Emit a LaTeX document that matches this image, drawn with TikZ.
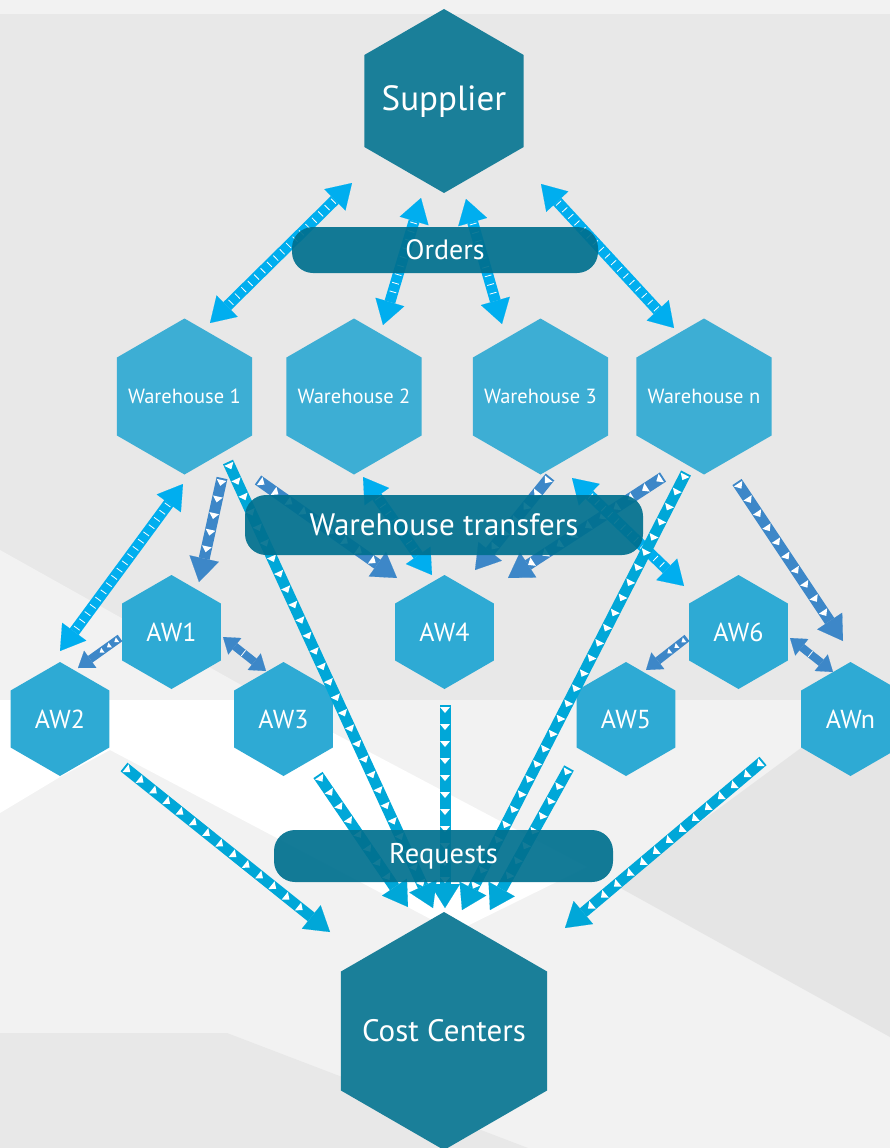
\documentclass[tikz,border=0pt]{standalone}
\usepackage{fontspec}
\setmainfont{PT Sans}
\usetikzlibrary{arrows.meta,decorations.markings,calc}
\definecolor{bgmain}{HTML}{E8E8E8}
\definecolor{bglight}{HTML}{F2F2F2}
\definecolor{bgdark}{HTML}{E5E5E5}
\definecolor{supc}{HTML}{1A7F99}
\definecolor{whc}{HTML}{3DAED4}
\definecolor{awc}{HTML}{2EAAD4}
\definecolor{pillc}{HTML}{00708F}
\definecolor{cyanA}{HTML}{00AEEF}
\definecolor{steelc}{HTML}{3D87C8}
\definecolor{reqc}{HTML}{00A7D8}
\newcommand\drawhex[3]{\fill[#1] #2 +(90:#3) -- +(150:#3) -- +(210:#3) -- +(270:#3) -- +(330:#3) -- +(30:#3) -- cycle;}
\newcommand\ribone[4]{\draw[#1] (#3) -- (#4);
  \path[#2] ($(#3)!5pt!(#4)$) -- ($(#4)!26pt!(#3)$);}
\newcommand\ribtwo[4]{\draw[#1] (#3) -- (#4);
  \path[#2] ($(#3)!26pt!(#4)$) -- ($(#4)!26pt!(#3)$);}
\tikzset{
  onebig/.style={draw=#1, line width=11pt, -{Triangle[width=30pt,length=24pt,line width=0.1pt]}},
  twobig/.style={draw=#1, line width=11pt, {Triangle[width=30pt,length=24pt,line width=0.1pt]}-{Triangle[width=30pt,length=24pt,line width=0.1pt]}},
  onesmall/.style={draw=#1, line width=8pt, -{Triangle[width=21pt,length=15pt,line width=0.1pt]}},
  twosmall/.style={draw=#1, line width=8pt, {Triangle[width=21pt,length=15pt,line width=0.1pt]}-{Triangle[width=21pt,length=15pt,line width=0.1pt]}},
  trimarks/.style={decorate, decoration={markings, mark=between positions 0 and 1 step 17pt with {\fill[white] (-3pt,-5pt) -- (3pt,0pt) -- (-3pt,5pt) -- cycle;}}},
  smtrimarks/.style={decorate, decoration={markings, mark=between positions 0 and 1 step 9pt with {\fill[white] (-2pt,-3pt) -- (2pt,0pt) -- (-2pt,3pt) -- cycle;}}},
  dashmarks/.style={decorate, decoration={markings, mark=between positions 0 and 1 step 9pt with {\draw[white,line width=0.8pt] (0pt,-3.5pt) -- (0pt,3.5pt);}}},
  hexlbl/.style={text=white, inner sep=0pt},
  whlbl/.style={hexlbl, font=\fontsize{20.5}{24}\selectfont},
  awlbl/.style={hexlbl, font=\fontsize{26}{30}\selectfont},
  pill/.style={fill=pillc, fill opacity=0.92, text opacity=1, text=white, rounded corners=21pt, inner sep=0pt}
}
\begin{document}
\begin{tikzpicture}[x=1pt,y=-1pt]
\useasboundingbox (0,0) rectangle (890,1148);
% background
\fill[bgmain] (0,0) rectangle (890,1148);
\fill[bglight] (0,0) rectangle (890,14);
\fill[bglight] (0,550) -- (268,700) -- (0,700) -- cycle;
\fill[bglight] (0,700) rectangle (890,1148);
\fill[white] (0,700) -- (271,700) -- (587,867) -- (455,932) -- (110,750) -- (60,777) -- (0,813) -- cycle;
\fill[bgdark] (801,748) -- (890,748) -- (890,1037) -- (615,885) -- cycle;
\fill[bgmain] (0,1033) -- (227,1033) -- (528,1148) -- (0,1148) -- cycle;

% hexagons
\drawhex{supc}{(444,101)}{92pt}
\node[hexlbl, font=\fontsize{35}{40}\selectfont] (sup) at (444,102) {Supplier};
\drawhex{supc}{(444,1031)}{119pt}
\node[hexlbl, font=\fontsize{31}{36}\selectfont] (cc) at (444,1031) {Cost Centers};
\drawhex{whc}{(184.5,396.5)}{78pt}
\node[whlbl] (w1) at (184.5,396.5) {Warehouse 1};
\drawhex{whc}{(354,396.5)}{78pt}
\node[whlbl] (w2) at (354,396.5) {Warehouse 2};
\drawhex{whc}{(540.5,396.5)}{78pt}
\node[whlbl] (w3) at (540.5,396.5) {Warehouse 3};
\drawhex{whc}{(704,396.5)}{78pt}
\node[whlbl] (wn) at (704,396.5) {Warehouse n};
\drawhex{awc}{(171.5,632)}{57pt}
\node[awlbl] (aw1) at (171.5,632) {AW1};
\drawhex{awc}{(60,719)}{57pt}
\node[awlbl] (aw2) at (60,719) {AW2};
\drawhex{awc}{(283.5,719)}{57pt}
\node[awlbl] (aw3) at (283.5,719) {AW3};
\drawhex{awc}{(444.5,632)}{57pt}
\node[awlbl] (aw4) at (444.5,632) {AW4};
\drawhex{awc}{(626,719)}{57pt}
\node[awlbl] (aw5) at (626,719) {AW5};
\drawhex{awc}{(738.5,632)}{57pt}
\node[awlbl] (aw6) at (738.5,632) {AW6};
\drawhex{awc}{(850.5,719)}{57pt}
\node[awlbl] (awn) at (850.5,719) {AWn};

% arrow end points
\coordinate (o1a) at (352,183); \coordinate (o1b) at (210,323);
\coordinate (o2a) at (421,198); \coordinate (o2b) at (383,325);
\coordinate (o3a) at (466,199); \coordinate (o3b) at (502,324);
\coordinate (o4a) at (541,184); \coordinate (o4b) at (674,328);
\coordinate (b1a) at (222,478); \coordinate (b1b) at (199,582);
\coordinate (b2a) at (228,462); \coordinate (b2b) at (433,908);
\coordinate (b3a) at (258,480); \coordinate (b3b) at (397,578);
\coordinate (b4a) at (183,484); \coordinate (b4b) at (60,651);
\coordinate (b5a) at (120,638); \coordinate (b5b) at (78,668);
\coordinate (b6a) at (223,637); \coordinate (b6b) at (266,671);
\coordinate (b7a) at (363,477); \coordinate (b7b) at (432,575);
\coordinate (b8a) at (550,477); \coordinate (b8b) at (475,570);
\coordinate (b9a) at (663,477); \coordinate (b9b) at (508,578);
\coordinate (b10a) at (572,478); \coordinate (b10b) at (684,586);
\coordinate (b11a) at (686,473); \coordinate (b11b) at (462,910);
\coordinate (b12a) at (737,482); \coordinate (b12b) at (843,641);
\coordinate (b13a) at (687,638); \coordinate (b13b) at (646,670);
\coordinate (b14a) at (790,638); \coordinate (b14b) at (833,672);
\coordinate (r1a) at (124,767); \coordinate (r1b) at (330,932);
\coordinate (r2a) at (318,775); \coordinate (r2b) at (408,907);
\coordinate (r3a) at (445,705); \coordinate (r3b) at (445,908);
\coordinate (r4a) at (569,768); \coordinate (r4b) at (490,910);
\coordinate (r5a) at (763,761); \coordinate (r5b) at (565,928);

% orders arrows
\ribtwo{twobig=cyanA}{dashmarks}{o1a}{o1b}
\ribtwo{twobig=cyanA}{dashmarks}{o2a}{o2b}
\ribtwo{twobig=cyanA}{dashmarks}{o3a}{o3b}
\ribtwo{twobig=cyanA}{dashmarks}{o4a}{o4b}
% warehouse transfer arrows
\ribone{onebig=steelc}{trimarks}{b1a}{b1b}
\ribone{onebig=steelc}{trimarks}{b3a}{b3b}
\ribtwo{twobig=cyanA}{dashmarks}{b4a}{b4b}
\ribone{onesmall=steelc}{smtrimarks}{b5a}{b5b}
\ribtwo{twosmall=steelc}{dashmarks}{b6a}{b6b}
\ribtwo{twobig=cyanA}{dashmarks}{b7a}{b7b}
\ribone{onebig=steelc}{trimarks}{b8a}{b8b}
\ribone{onebig=steelc}{trimarks}{b9a}{b9b}
\ribtwo{twobig=cyanA}{dashmarks}{b10a}{b10b}
\ribone{onebig=steelc}{trimarks}{b12a}{b12b}
\ribone{onesmall=steelc}{smtrimarks}{b13a}{b13b}
\ribtwo{twosmall=steelc}{dashmarks}{b14a}{b14b}
% request arrows
\ribone{onebig=reqc}{trimarks}{b2a}{b2b}
\ribone{onebig=reqc}{trimarks}{b11a}{b11b}
\ribone{onebig=reqc}{trimarks}{r1a}{r1b}
\ribone{onebig=reqc}{trimarks}{r2a}{r2b}
\ribone{onebig=reqc}{trimarks}{r3a}{r3b}
\ribone{onebig=reqc}{trimarks}{r4a}{r4b}
\ribone{onebig=reqc}{trimarks}{r5a}{r5b}

% pills
\node[pill, minimum width=306pt, minimum height=46pt, font=\fontsize{28}{32}\selectfont] (orders) at (445,250) {Orders};
\node[pill, minimum width=398pt, minimum height=60pt, font=\fontsize{31}{36}\selectfont] (wt) at (444,525) {Warehouse transfers};
\node[pill, minimum width=339pt, minimum height=52pt, font=\fontsize{28.5}{32}\selectfont] (req) at (443.5,856) {Requests};
\end{tikzpicture}
\end{document}
